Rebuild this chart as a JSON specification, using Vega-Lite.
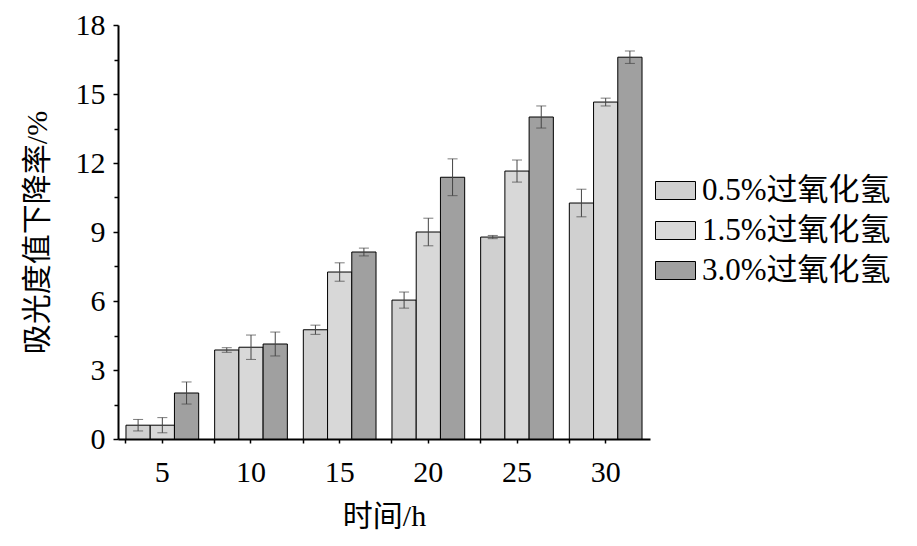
{
  "$schema": "https://vega.github.io/schema/vega-lite/v6.json",
  "autosize": "none",
  "width": 532,
  "height": 414,
  "padding": {"left": 118, "top": 25, "right": 267, "bottom": 107},
  "data": {
    "values": [
      {"time": 5, "group": "0.5%过氧化氢", "value": 0.6, "err": 0.25},
      {"time": 5, "group": "1.5%过氧化氢", "value": 0.6, "err": 0.33},
      {"time": 5, "group": "3.0%过氧化氢", "value": 2.0, "err": 0.48},
      {"time": 10, "group": "0.5%过氧化氢", "value": 3.87, "err": 0.1},
      {"time": 10, "group": "1.5%过氧化氢", "value": 3.99, "err": 0.53},
      {"time": 10, "group": "3.0%过氧化氢", "value": 4.13, "err": 0.52},
      {"time": 15, "group": "0.5%过氧化氢", "value": 4.75, "err": 0.2},
      {"time": 15, "group": "1.5%过氧化氢", "value": 7.26, "err": 0.4},
      {"time": 15, "group": "3.0%过氧化氢", "value": 8.13, "err": 0.17},
      {"time": 20, "group": "0.5%过氧化氢", "value": 6.04, "err": 0.35},
      {"time": 20, "group": "1.5%过氧化氢", "value": 9.0, "err": 0.6},
      {"time": 20, "group": "3.0%过氧化氢", "value": 11.38, "err": 0.8},
      {"time": 25, "group": "0.5%过氧化氢", "value": 8.78, "err": 0.07},
      {"time": 25, "group": "1.5%过氧化氢", "value": 11.65, "err": 0.48},
      {"time": 25, "group": "3.0%过氧化氢", "value": 14.0, "err": 0.48},
      {"time": 30, "group": "0.5%过氧化氢", "value": 10.26, "err": 0.6},
      {"time": 30, "group": "1.5%过氧化氢", "value": 14.65, "err": 0.17},
      {"time": 30, "group": "3.0%过氧化氢", "value": 16.6, "err": 0.27}
    ]
  },
  "layer": [
    {
      "mark": {"type": "bar", "stroke": "black", "strokeWidth": 1},
      "encoding": {
        "x": {
          "field": "time", "type": "ordinal", "title": "时间/h",
          "scale": {"paddingInner": 0.18, "paddingOuter": 0.09},
          "axis": {"labelAngle": 0, "tickSize": 4, "tickWidth": 1.5, "labelPadding": 14, "titlePadding": 14, "orient": "bottom"}
        },
        "xOffset": {"field": "group", "type": "nominal", "scale": {"paddingInner": 0, "paddingOuter": 0}},
        "y": {
          "field": "value", "type": "quantitative", "title": "吸光度值下降率/%",
          "scale": {"domain": [0, 18], "nice": false},
          "axis": {"values": [0, 3, 6, 9, 12, 15, 18], "tickSize": 5, "tickWidth": 1.5, "labelPadding": 8, "orient": "left", "titleX": -81, "titleBaseline": "middle"}
        },
        "fill": {
          "field": "group", "type": "nominal", "title": null,
          "scale": {"range": ["#d0d0d0", "#d8d8d8", "#a0a0a0"]},
          "legend": {
            "orient": "none", "legendX": 537, "legendY": 145,
            "symbolType": "M-1,-0.45H1V0.45H-1Z", "symbolSize": 1600,
            "symbolStrokeColor": "black", "symbolStrokeWidth": 1, "symbolOpacity": 1,
            "labelFontSize": 31, "labelOffset": 6, "rowPadding": 4, "labelColor": "black", "labelLimit": 0
          }
        }
      }
    },
    {
      "mark": {"type": "errorbar", "ticks": {"size": 10, "thickness": 1, "color": "#444"}, "rule": {"color": "#444", "strokeWidth": 1}},
      "encoding": {
        "x": {"field": "time", "type": "ordinal", "axis": null},
        "xOffset": {"field": "group", "type": "nominal"},
        "y": {"field": "value", "type": "quantitative", "axis": null},
        "yError": {"field": "err"}
      }
    },
    {
      "mark": {"type": "bar", "opacity": 0},
      "encoding": {
        "x": {"field": "time", "type": "ordinal", "axis": {"orient": "bottom", "bandPosition": 0, "labels": false, "domain": false, "tickSize": 4, "tickWidth": 1.5, "title": null}},
        "xOffset": {"field": "group", "type": "nominal"},
        "y": {"field": "value", "type": "quantitative", "axis": {"orient": "left", "values": [1.5, 4.5, 7.5, 10.5, 13.5, 16.5], "labels": false, "domain": false, "tickSize": 4, "tickWidth": 1.5, "title": null}}
      }
    }
  ],
  "resolve": {"axis": {"x": "independent", "y": "independent"}},
  "config": {
    "font": "Liberation Serif, Noto Sans CJK SC",
    "view": {"stroke": null},
    "axis": {
      "domainColor": "black", "domainWidth": 2, "tickColor": "black", "labelColor": "black", "titleColor": "black",
      "labelFontSize": 30, "titleFontSize": 30, "titleFontWeight": "normal", "grid": false,
      "labelFont": "Liberation Serif", "titleFont": "Liberation Serif, Noto Sans CJK SC"
    },
    "legend": {"labelFont": "Liberation Serif, Noto Sans CJK SC"}
  }
}
